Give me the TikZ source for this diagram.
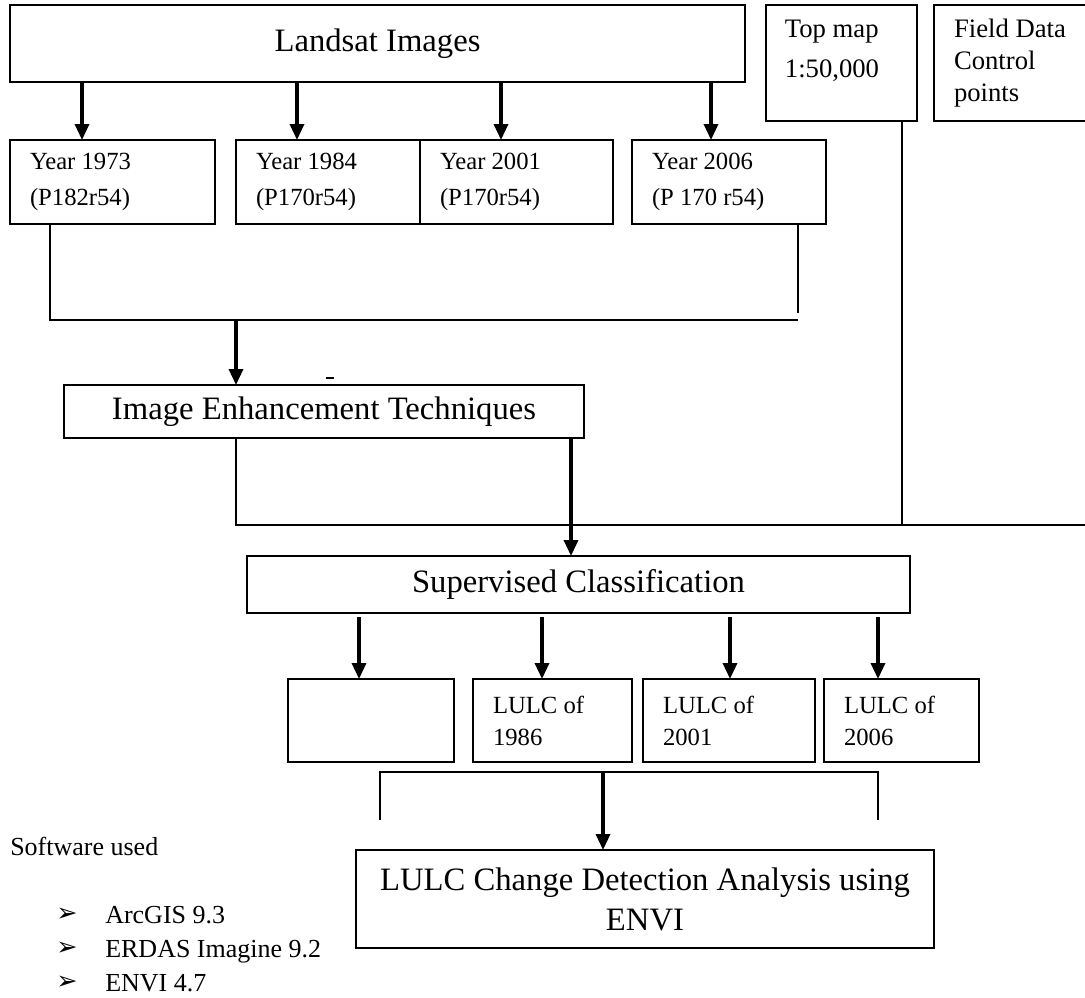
\documentclass[tikz,border=0pt]{standalone}
\usepackage{fontspec}
\setmainfont{Liberation Serif}
\newfontfamily\dingfont{DejaVu Sans}
\usetikzlibrary{arrows.meta}

\begin{document}
\begin{tikzpicture}[x=0.75pt, y=-0.75pt,
	box/.style={draw, line width=1pt, inner sep=0pt, outer sep=0pt},
	bigtxt/.style={font=\fontsize{24.5}{30}\selectfont},
	ybox/.style={box, align=flush left, inner xsep=15pt, minimum height=63pt, font=\fontsize{18.5}{27}\selectfont},
	lbox/.style={box, align=flush left, inner xsep=15pt, minimum height=62.25pt, font=\fontsize{18.5}{24}\selectfont},
	arr/.style={-{Triangle[length=12pt,width=10.5pt]}, line width=2.5pt},
	conn/.style={line width=0.8pt}]
	\useasboundingbox (0,0) rectangle (1085,997);

	% Sources
	\node[box, bigtxt, minimum width=551.25pt, minimum height=57.75pt] (land) at (377.5,43.5) {Landsat Images};
	\node[box, minimum width=113.25pt, minimum height=87pt,
		label={[anchor=north west, xshift=14pt, yshift=-11pt, inner sep=0pt, align=flush left, font=\fontsize{20}{30}\selectfont]north west:{Top map\\1:50,000}}] (topmap) at (841.5,63) {};
	\node[box, align=flush left, inner xsep=15pt, text width=94.5pt, minimum height=87pt, font=\fontsize{20}{24}\selectfont] (field) at (1017,63) {Field Data\\Control\\points};

	% Scenes
	\node[ybox, text width=123.75pt] (y1973) at (112.5,182) {Year 1973\\(P182r54)};
	\node[ybox, text width=108pt] (y1984) at (328,182) {Year 1984\\(P170r54)};
	\node[ybox, text width=114.75pt] (y2001) at (516.5,182) {Year 2001\\(P170r54)};
	\node[ybox, text width=115.5pt] (y2006) at (729,182) {Year 2006\\(P 170 r54)};

	% Processing
	\node[box, bigtxt, minimum width=390pt, minimum height=39.75pt] (enh) at (324,411.5) {Image Enhancement Techniques};
	\node[box, bigtxt, minimum width=497.25pt, minimum height=42.75pt] (sup) at (578.5,584.5) {Supervised Classification};

	% Classified maps
	\node[box, minimum width=124.5pt, minimum height=62.25pt] (lempty) at (371,720.5) {};
	\node[lbox, text width=89.25pt] (l1986) at (552.5,720.5) {LULC of\\1986};
	\node[lbox, text width=99pt] (l2001) at (729,720.5) {LULC of\\2001};
	\node[lbox, text width=86.25pt] (l2006) at (901.5,720.5) {LULC of\\2006};

	\node[box, bigtxt, align=center, minimum width=433.5pt, minimum height=73.5pt] (change) at (645,899) {LULC Change Detection Analysis using\\ENVI};

	% Software list
	\node[anchor=base west, inner sep=0pt, font=\fontsize{19.5}{24}\selectfont] (soft) at (10,855) {Software used};
	\foreach \name [count=\i] in {ArcGIS 9.3, ERDAS Imagine 9.2, ENVI 4.7} {
		\node[anchor=west, inner sep=0pt, font=\dingfont\fontsize{19}{20}\selectfont] (bu\i) at (56,881+34*\i) {➢};
		\node[anchor=base west, inner sep=0pt, font=\fontsize{19.5}{24}\selectfont] (sw\i) at (105,889+34*\i) {\name};
	}

	% Landsat to scenes
	\foreach \x/\b in {82/y1973, 297/y1984, 501/y2001, 711/y2006}
	\draw[arr] (land.south -| \x,0) -- (\b.north -| \x,0);

	% Scenes joined
	\coordinate (jn1) at (798,320);
	\draw[conn] (y1973.south -| 50,0) |- (jn1);
	\draw[conn] (y2006.south -| jn1) -- ([yshift=5pt]jn1);
	\draw[arr] (jn1 -| 236,0) -- (enh.north -| 236,0);
	\draw[line width=1pt] (326,378) -- (334,378);

	% Enhancement and top map to classification
	\coordinate (jn2) at (1100,525);
	\draw[conn] (enh.south -| 236,0) |- (jn2);
	\draw[conn] (topmap.south -| 902,0) -- (jn2 -| 902,0);
	\draw[arr] (enh.south -| 571,0) -- (sup.north -| 571,0);

	\foreach \x/\b in {359/lempty, 542/l1986, 730/l2001, 878/l2006}
	\draw[arr, shorten <=3pt] (sup.south -| \x,0) -- (\b.north -| \x,0);

	% Maps to change detection
	\coordinate (jn3) at (603,772);
	\coordinate (bl) at (380,820);
	\coordinate (br) at (878,820);
	\draw[conn] (bl) |- (jn3) -| (br);
	\draw[arr] (jn3) -- (change.north -| jn3);
\end{tikzpicture}
\end{document}
